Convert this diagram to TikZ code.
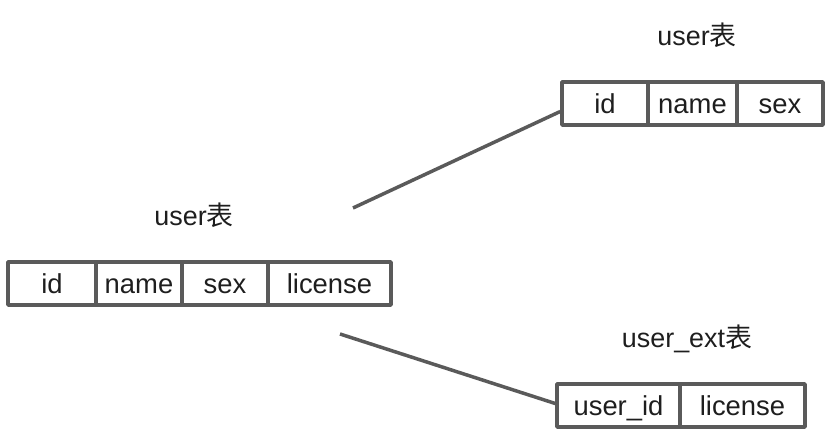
\documentclass[tikz,border=0pt]{standalone}
\usepackage{fontspec}
\setmainfont{Liberation Sans}
\newfontfamily\cjk{Noto Sans CJK SC}
\definecolor{linegray}{HTML}{5A5A5A}
\definecolor{textgray}{HTML}{1E1E1E}
\tikzset{
  cell/.style={draw=linegray,line width=3.5bp,minimum height=43bp,inner sep=0pt,text height=24.5bp,text depth=5bp,text=textgray,font=\fontsize{27.5}{32}\selectfont},
  title/.style={anchor=base,text=textgray,font=\fontsize{27}{32}\selectfont},
  link/.style={draw=linegray,line width=3.5bp},
}
\begin{document}
\begin{tikzpicture}[>=latex,line join=bevel,]
\useasboundingbox (0bp,0bp) rectangle (836bp,434bp);
%%
\node (user_title) at (194bp,208bp) [title] {user{\cjk 表}};
  \node (user_id) at (52bp,150.5bp) [cell,minimum width=88bp] {id};
  \node (user_name) at (139bp,150.5bp) [cell,minimum width=86bp] {name};
  \node (user_sex) at (225bp,150.5bp) [cell,minimum width=86bp] {sex};
  \node (user_license) at (329.5bp,150.5bp) [cell,minimum width=123bp] {license};
%
\node (base_title) at (697bp,388bp) [title] {user{\cjk 表}};
  \node (base_id) at (605bp,330.5bp) [cell,minimum width=86bp] {id};
  \node (base_name) at (692.5bp,330.5bp) [cell,minimum width=89bp] {name};
  \node (base_sex) at (780bp,330.5bp) [cell,minimum width=86bp] {sex};
%
\node (ext_title) at (687bp,86bp) [title] {user\_ext{\cjk 表}};
  \node (ext_user_id) at (618.5bp,28.5bp) [cell,minimum width=123bp] {user\_id};
  \node (ext_license) at (742.5bp,28.5bp) [cell,minimum width=125bp] {license};
%
\coordinate (split_up) at (353bp,226bp);
  \coordinate (split_down) at (340bp,100bp);
  \draw [link] (split_up) -- ([yshift=-8bp]base_id.west);
  \draw [link] (split_down) -- ([yshift=2bp]ext_user_id.west);
%
\end{tikzpicture}
\end{document}
